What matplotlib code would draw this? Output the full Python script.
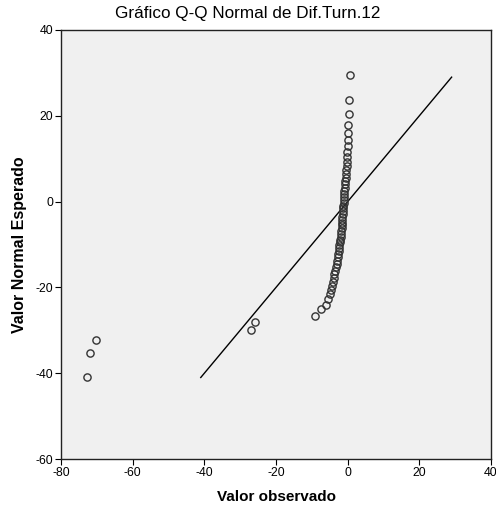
import matplotlib
matplotlib.use("Agg")
import matplotlib.pyplot as plt

plt.rcParams['font.family'] = ['Liberation Sans', 'DejaVu Sans']
plt.rcParams['axes.unicode_minus'] = False

# valores observados (ordenados) y valores normales esperados
observado = [-72.7, -71.9, -70.2, -26.9, -26.0, -9.2, -7.4, -6.1, -5.4, -5.0,
             -4.7, -4.4, -4.1, -3.9, -3.7, -3.5, -3.3, -3.1, -2.9, -2.8,
             -2.6, -2.5, -2.4, -2.3, -2.2, -2.1, -2.0, -1.9, -1.8, -1.7,
             -1.7, -1.6, -1.5, -1.5, -1.4, -1.3, -1.3, -1.2, -1.1, -1.1,
             -1.0, -0.9, -0.9, -0.8, -0.7, -0.7, -0.6, -0.5, -0.4, -0.3,
             -0.3, -0.2, -0.1, 0.0, 0.1, 0.1, 0.2, 0.3, 0.5, 0.7]
esperado = [-41.0, -35.4, -32.2, -30.0, -28.1, -26.6, -25.1, -24.0, -22.8, -21.6,
            -20.6, -19.6, -18.7, -17.8, -16.9, -16.1, -15.3, -14.5, -13.8, -13.0,
            -12.3, -11.6, -10.9, -10.2, -9.5, -8.9, -8.2, -7.5, -6.9, -6.2,
            -5.5, -4.9, -4.2, -3.6, -2.9, -2.3, -1.6, -1.0, -0.3, 0.4,
            1.1, 1.8, 2.5, 3.2, 4.0, 4.8, 5.6, 6.5, 7.4, 8.3,
            9.3, 10.4, 11.6, 12.9, 14.3, 15.9, 17.8, 20.4, 23.7, 29.4]

linea = [-41.0, 29.0]
xticks = [-80, -60, -40, -20, 0, 20, 40]
yticks = [-60, -40, -20, 0, 20, 40]

fig = plt.figure(figsize=(4.96, 5.12), dpi=100)
ax = fig.add_axes([0.123, 0.1035, 0.867, 0.838])
ax.set_facecolor('#f0f0f0')

ax.plot(linea, linea, color='black', linewidth=1.0, zorder=2)
ax.plot(observado, esperado, linestyle='none', marker='o', markersize=5.2,
        markerfacecolor='none', markeredgecolor='#333333', markeredgewidth=1.0, zorder=3)

ax.set_xlim(-80, 40)
ax.set_ylim(-60, 40)
ax.set_xticks(xticks)
ax.set_yticks(yticks)
ax.tick_params(direction='out', length=4.5, width=0.8, labelsize=8.8, pad=1)
for s in ax.spines.values():
    s.set_linewidth(1.0)
    s.set_color('#222222')

ax.set_xlabel('Valor observado', fontsize=11, fontweight='bold', labelpad=8)
ax.set_ylabel('Valor Normal Esperado', fontsize=11.5, fontweight='bold', labelpad=6)
fig.text(0.5, 0.974, 'Gráfico Q-Q Normal de Dif.Turn.12', ha='center', va='center', fontsize=12.3)

fig.savefig('out.png', dpi=100)
